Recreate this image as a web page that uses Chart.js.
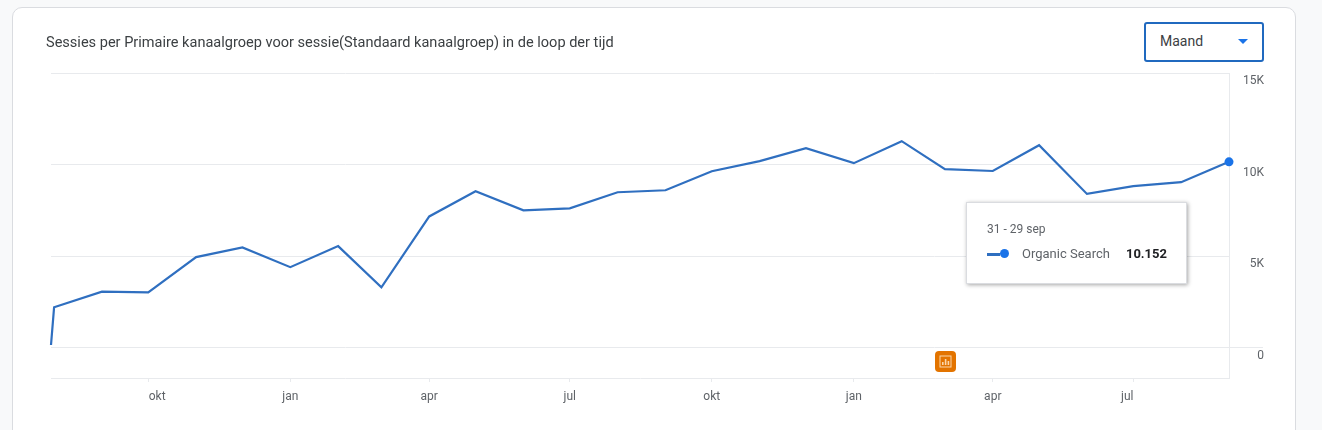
<!DOCTYPE html>
<html>
<head>
<meta charset="utf-8">
<script src="https://cdn.jsdelivr.net/npm/chart.js@4"></script>
<style>
  html, body { margin: 0; padding: 0; width: 1322px; height: 430px; overflow: hidden; background: #f8f9fa; font-family: Roboto, sans-serif; }
  #card { position: absolute; left: 12px; top: 7px; width: 1282px; height: 440px; background: #fff; border: 1px solid #dadce0; border-radius: 10px; }
  #title { position: absolute; left: 46px; top: 33.5px; font-size: 14.55px; line-height: 18px; color: #3c4043; }
  #select { position: absolute; left: 1144px; top: 22px; width: 116px; height: 36px; border: 2px solid #2069bf; border-radius: 3px; background: #fff; }
  #select span { position: absolute; left: 14px; top: 8px; font-size: 14px; line-height: 18px; color: #3c4043; }
  #select i { position: absolute; left: 92px; top: 15px; width: 0; height: 0; border-left: 5px solid transparent; border-right: 5px solid transparent; border-top: 5px solid #1a73e8; }
  #wrap { position: absolute; left: 0; top: 0; width: 1322px; height: 430px; }
  #tip { position: absolute; left: 966px; top: 202px; width: 221px; height: 82px; box-sizing: border-box; background: #fff; border: 1px solid #dadce0; box-shadow: 1px 1px 4px rgba(0,0,0,.35); color: #5f6368; font-size: 12px; }
  #tipDate { position: absolute; left: 20px; top: 19px; line-height: 14px; }
  #tipLine { position: absolute; left: 20px; top: 50px; width: 13px; height: 2.5px; background: #2f6fc0; }
  #tipDot { position: absolute; left: 33px; top: 46px; width: 9px; height: 9px; border-radius: 50%; background: #1a73e8; }
  #tipName { position: absolute; left: 55px; top: 44px; line-height: 14px; font-size: 13px; }
  #tipVal { position: absolute; right: 19px; top: 44px; line-height: 14px; font-size: 13px; font-weight: 700; color: #202124; }
  #flag { position: absolute; left: 935px; top: 351px; width: 21px; height: 21px; border-radius: 4px; background: #e37400; }
  #flag svg { position: absolute; left: 4px; top: 4px; }
</style>
</head>
<body>
<div id="card"></div>
<div id="wrap"><canvas id="chart" width="1322" height="430"></canvas></div>
<div id="title">Sessies per Primaire kanaalgroep voor sessie(Standaard kanaalgroep) in de loop der tijd</div>
<div id="select"><span>Maand</span><i></i></div>
<div id="flag">
  <svg width="13" height="13" viewBox="0 0 13 13" fill="none">
    <rect x="1" y="1" width="11" height="11" stroke="#fbd7ac" stroke-width="1"/>
    <rect x="3" y="7" width="1.6" height="3" fill="#fbd7ac"/>
    <rect x="5.8" y="4" width="1.6" height="6" fill="#fbd7ac"/>
    <rect x="8.6" y="6" width="1.6" height="4" fill="#fbd7ac"/>
  </svg>
</div>
<div id="tip">
  <div id="tipDate">31 - 29 sep</div>
  <div id="tipLine"></div><div id="tipDot"></div>
  <div id="tipName">Organic Search</div>
  <div id="tipVal"></div>
</div>
<script>
const seriesName = 'Organic Search';
const dates = ['2021-07-30', '2021-08-01', '2021-09-01', '2021-10-01', '2021-11-01', '2021-12-01', '2022-01-01',
  '2022-02-01', '2022-03-01', '2022-04-01', '2022-05-01', '2022-06-01', '2022-07-01', '2022-08-01', '2022-09-01',
  '2022-10-01', '2022-11-01', '2022-12-01', '2023-01-01', '2023-02-01', '2023-03-01', '2023-04-01', '2023-05-01',
  '2023-06-01', '2023-07-01', '2023-08-01', '2023-09-01'];
const sessions = [150, 2210, 3065, 3030, 4950, 5480, 4400, 5550, 3300, 7170, 8540, 7500, 7610, 8490, 8600,
  9640, 10190, 10900, 10080, 11280, 9750, 9650, 11060, 8400, 8820, 9040, 10152];
const xTickDates = ['2021-10-01', '2022-01-01', '2022-04-01', '2022-07-01', '2022-10-01', '2023-01-01', '2023-04-01', '2023-07-01'];
const xTickLabels = ['okt', 'jan', 'apr', 'jul', 'okt', 'jan', 'apr', 'jul'];
const yTickValues = [0, 5000, 10000, 15000];
const yTickLabels = ['0', '5K', '10K', '15K'];

const day = s => Date.parse(s) / 86400000;
const points = dates.map((d, i) => ({ x: day(d), y: sessions[i] }));
const lineColor = '#2f6fc0';
const gridColor = '#e8eaed';
const tickColor = '#5f6368';
const nbsp = '\u00a0';

document.getElementById('tipVal').textContent = sessions[sessions.length - 1].toLocaleString('nl-NL');

// first and last month label sit off-centre from their tick in the original
function xLabel(i) {
  if (i === 0) return nbsp.repeat(6) + xTickLabels[i];
  if (i === xTickLabels.length - 1) return xTickLabels[i] + nbsp.repeat(4);
  return xTickLabels[i];
}

new Chart(document.getElementById('chart'), {
  type: 'line',
  data: {
    datasets: [{
      label: seriesName,
      data: points,
      borderColor: lineColor,
      borderWidth: 2.2,
      tension: 0,
      clip: false,
      // only the last point is marked
      pointRadius: points.map((p, i) => i === points.length - 1 ? 4.5 : 0),
      pointBackgroundColor: '#1a73e8',
      pointBorderWidth: 0
    }]
  },
  options: {
    responsive: false,
    animation: false,
    events: [],
    layout: { padding: { left: 51, top: 73, right: 58, bottom: 0 } },
    plugins: { legend: { display: false }, tooltip: { enabled: false } },
    scales: {
      x: {
        type: 'linear',
        min: day(dates[0]),
        max: day(dates[dates.length - 1]),
        afterBuildTicks: s => { s.ticks = xTickDates.map(d => ({ value: day(d) })); },
        afterFit: s => { s.height = 52; },
        border: { color: gridColor, width: 1 },
        grid: { drawOnChartArea: false, drawTicks: true, tickLength: 4, color: gridColor },
        ticks: {
          autoSkip: false,
          maxRotation: 0,
          padding: 8,
          color: tickColor,
          font: { family: 'Roboto', size: 12 },
          callback: (v, i) => xLabel(i)
        }
      },
      y: {
        position: 'right',
        min: -1650,
        max: 15000,
        afterBuildTicks: s => { s.ticks = yTickValues.map(v => ({ value: v })); },
        afterFit: s => { s.width = 35; },
        border: { color: gridColor, width: 1 },
        grid: {
          color: gridColor,
          tickLength: 34,
          tickColor: ctx => ctx.tick && ctx.tick.value === 0 ? gridColor : 'rgba(0,0,0,0)'
        },
        ticks: {
          crossAlign: 'far',
          padding: 0,
          labelOffset: 8,
          color: tickColor,
          font: { family: 'Roboto', size: 12 },
          callback: (v, i) => yTickLabels[i]
        }
      }
    }
  }
});
</script>
</body>
</html>
